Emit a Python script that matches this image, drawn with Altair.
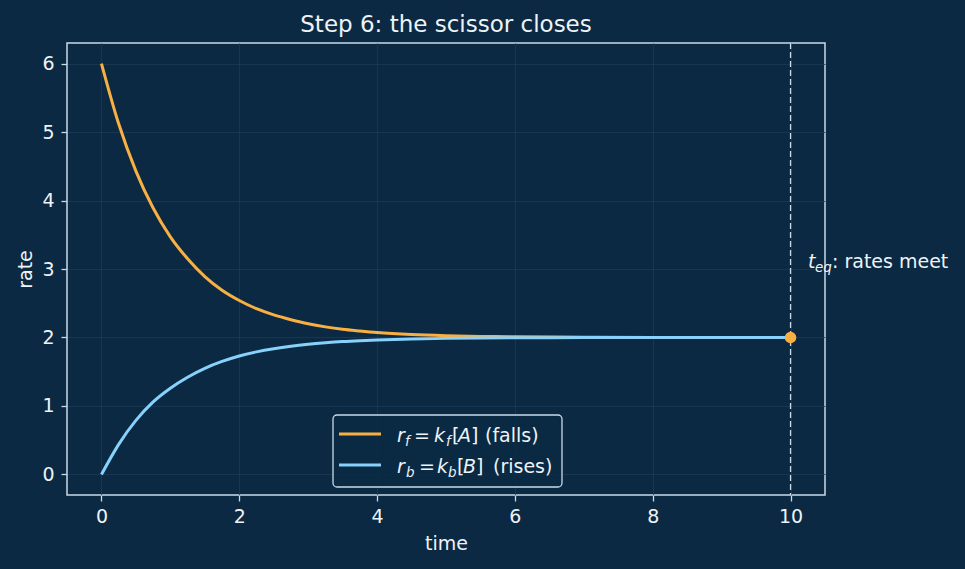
import altair as alt
import pandas as pd

# ---- data ----
t = [0, 0.25, 0.5, 0.75, 1, 1.25, 1.5, 1.75, 2, 2.25, 2.5, 2.75, 3, 3.25, 3.5, 3.75,
     4, 4.5, 5, 5.5, 6, 7, 8, 9, 10]
r_forward = [6.00, 5.12, 4.43, 3.89, 3.47, 3.15, 2.89, 2.69, 2.54, 2.42, 2.33, 2.26,
             2.20, 2.155, 2.12, 2.095, 2.073, 2.044, 2.027, 2.016, 2.01, 2.004, 2.00,
             2.00, 2.00]
r_backward = [0.00, 0.44, 0.79, 1.06, 1.26, 1.42, 1.55, 1.65, 1.73, 1.79, 1.836, 1.872,
              1.90, 1.922, 1.94, 1.953, 1.963, 1.978, 1.987, 1.992, 1.995, 1.998, 2.00,
              2.00, 2.00]
t_eq = [10]
r_eq = [2.0]
x_ticks = [0, 2, 4, 6, 8, 10]
y_ticks = [0, 1, 2, 3, 4, 5, 6]

BG = "#0b2942"
FG = "#eef3f8"
FRAME = "#c9dbe9"
GRID = "#1c3a54"
ORANGE = "#f9b042"
BLUE = "#87d1fb"
FONT = "DejaVu Sans"
FS = 19      # tick / axis / legend font size
SUB = 13.5   # subscript size

df = pd.DataFrame({"t": t, "rf": r_forward, "rb": r_backward})
eq = pd.DataFrame({"t": t_eq, "r": r_eq})

xs = alt.Scale(domain=[-0.5, 10.5], nice=False, zero=False)
ys = alt.Scale(domain=[-0.3, 6.3], nice=False, zero=False)

xax = alt.Axis(values=x_ticks, title="time", grid=True, domain=False, format="d",
               tickSize=6, labelPadding=6, titlePadding=8)
yax = alt.Axis(values=y_ticks, title="rate", grid=True, domain=False, format="d",
               tickSize=6, labelPadding=7, titlePadding=6)

base = alt.Chart(df)
orange = base.mark_line(color=ORANGE, strokeWidth=3, interpolate="monotone").encode(
    x=alt.X("t:Q", scale=xs, axis=xax), y=alt.Y("rf:Q", scale=ys, axis=yax))
blue = base.mark_line(color=BLUE, strokeWidth=3, interpolate="monotone").encode(
    x=alt.X("t:Q", scale=xs), y=alt.Y("rb:Q", scale=ys))

eq_rule = alt.Chart(eq).mark_rule(color=FRAME, strokeWidth=1.3, strokeDash=[6, 3]).encode(
    x=alt.X("t:Q", scale=xs))
eq_pt = alt.Chart(eq).mark_circle(color=ORANGE, size=135, opacity=1).encode(
    x=alt.X("t:Q", scale=xs), y=alt.Y("r:Q", scale=ys))

# annotation "t_eq: rates meet" (pixel offsets relative to the plot area)
ann_segments = [
    ("t", 741, 225, FS, "italic"),
    ("eq", 748, 229, SUB, "italic"),
    (": rates meet", 765, 225, FS, "normal"),
]
# legend text segments (pixel positions inside the plot area)
leg_segments = [
    ("r", 330, 399, FS, "italic"), ("f", 338, 403, SUB, "italic"),
    ("=", 347, 399, FS, "normal"), ("k", 367, 399, FS, "italic"),
    ("f", 379, 403, SUB, "italic"), ("[", 385, 399, FS, "normal"),
    ("A", 391, 399, FS, "italic"), ("]", 404, 399, FS, "normal"),
    ("(falls)", 418, 399, FS, "normal"),
    ("r", 330, 430, FS, "italic"), ("b", 339, 434, SUB, "italic"),
    ("=", 352, 430, FS, "normal"), ("k", 370, 430, FS, "italic"),
    ("b", 381, 434, SUB, "italic"), ("[", 390, 430, FS, "normal"),
    ("B", 396, 430, FS, "italic"), ("]", 409, 430, FS, "normal"),
    ("(rises)", 426, 430, FS, "normal"),
]

text_layers = []
for txt, px, py, fs, st in ann_segments + leg_segments:
    text_layers.append(
        alt.Chart(eq).mark_text(text=txt, align="left", baseline="alphabetic",
                                fontSize=fs, fontStyle=st, font=FONT, color=FG)
        .encode(x=alt.value(px), y=alt.value(py)))

legend_box = alt.Chart(eq).mark_rect(fill=BG, fillOpacity=0.85, stroke=FRAME, strokeWidth=1.3,
                                     cornerRadius=4).encode(
    x=alt.value(266), x2=alt.value(495), y=alt.value(372), y2=alt.value(444))
leg_line1 = alt.Chart(eq).mark_rule(color=ORANGE, strokeWidth=3).encode(
    x=alt.value(272), x2=alt.value(314), y=alt.value(391))
leg_line2 = alt.Chart(eq).mark_rule(color=BLUE, strokeWidth=3).encode(
    x=alt.value(272), x2=alt.value(314), y=alt.value(422))

chart = alt.layer(
    eq_rule, orange, blue, eq_pt, legend_box, leg_line1, leg_line2, *text_layers
).properties(
    width=758, height=452,
    title=alt.TitleParams("Step 6: the scissor closes", fontSize=23, font=FONT,
                          color=FG, fontWeight="normal", anchor="middle", offset=5),
    background=BG,
    padding={"left": 67, "top": 43, "right": 140, "bottom": 74},
    autosize="none",
).configure_view(
    stroke=FRAME, strokeWidth=1.5, fill=BG
).configure_axis(
    labelColor=FG, titleColor=FG, tickColor=FRAME, gridColor=GRID, gridWidth=0.8,
    labelFont=FONT, titleFont=FONT, labelFontSize=FS, titleFontSize=FS,
    titleFontWeight="normal", tickWidth=1.3
)

chart.save("out.html", embed_options={"renderer": "svg", "actions": False})
